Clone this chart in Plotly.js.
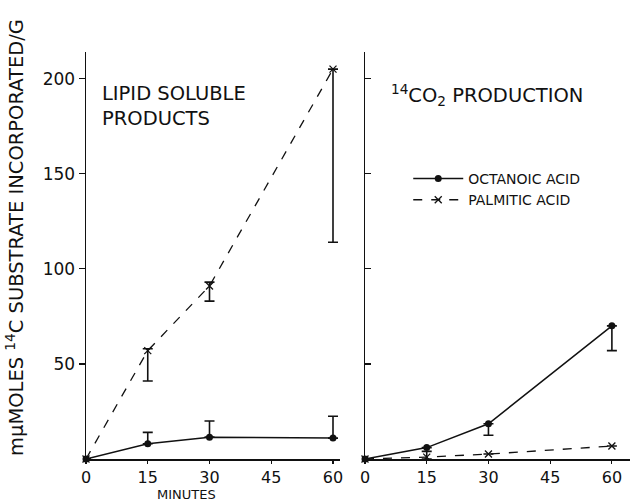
<!DOCTYPE html>
<html><head><meta charset="utf-8">
<script src="https://cdn.plot.ly/plotly-3.0.1.min.js"></script>
<style>body{margin:0;background:#fff}#c{width:630px;height:503px}</style>
</head><body><div id="c"></div>
<script>
// Data
const minutes = [0, 15, 30, 60];
// Lipid soluble products
const lipidPalmitic = [0, 57, 91, 205];
const lipidPalmiticErrPlus = [0, 1, 2, 0];
const lipidPalmiticErrMinus = [0, 16, 8, 91];
const lipidOctanoic = [0, 8, 11.5, 11];
const lipidOctanoicErrPlus = [0, 6, 8.5, 11.5];
const lipidOctanoicErrMinus = [0, 0, 0, 0];
// 14CO2 production
const co2Octanoic = [0, 6, 18.5, 70];
const co2OctanoicErrPlus = [0, 0, 0, 0];
const co2OctanoicErrMinus = [0, 0, 6, 13];
const co2Palmitic = [0, 1, 2.6, 6.8];
const co2PalmiticErrPlus = [0, 3, 0, 0];
const co2PalmiticErrMinus = [0, 1, 0, 0];
const xTicks = [0, 15, 30, 45, 60];
const yTicks = [50, 100, 150, 200];

const font = 'DejaVu Sans, Verdana, sans-serif';
const black = '#111';

function tr(x, y, ep, em, dash, sym, name, xa, ya, show) {
  return {
    x: x, y: y, xaxis: xa, yaxis: ya, name: name, showlegend: show,
    mode: 'lines+markers', type: 'scatter', cliponaxis: false,
    line: {color: black, width: dash === 'solid' ? 1.5 : 1.3, dash: dash},
    marker: {symbol: sym, size: 7, color: black,
             line: {color: black, width: sym === 'circle' ? 0 : 1.3}},
    error_y: {type: 'data', symmetric: false, array: ep, arrayminus: em,
              color: black, thickness: 1.6, width: 5}
  };
}

const data = [
  tr(minutes, lipidOctanoic, lipidOctanoicErrPlus, lipidOctanoicErrMinus, 'solid', 'circle', 'OCTANOIC ACID', 'x', 'y', true),
  tr(minutes, lipidPalmitic, lipidPalmiticErrPlus, lipidPalmiticErrMinus, 'dash', 'x-thin', 'PALMITIC ACID', 'x', 'y', true),
  tr(minutes, co2Octanoic, co2OctanoicErrPlus, co2OctanoicErrMinus, 'solid', 'circle', 'OCTANOIC ACID', 'x2', 'y2', false),
  tr(minutes, co2Palmitic, co2PalmiticErrPlus, co2PalmiticErrMinus, 'dash', 'x-thin', 'PALMITIC ACID', 'x2', 'y2', false)
];

const xBase = {
  range: [0, 61.7], showgrid: false, zeroline: false, showline: true,
  linecolor: black, linewidth: 1.5, ticks: 'outside', ticklen: 3, tickwidth: 1.2,
  tickcolor: black, tickvals: xTicks, ticktext: xTicks.map(String),
  tickfont: {family: font, size: 16, color: black}
};
const yBase = {
  range: [0, 214], showgrid: false, zeroline: false, showline: true,
  linecolor: black, linewidth: 1.5, tickvals: yTicks, tickwidth: 1.2, tickcolor: black,
  tickfont: {family: font, size: 17, color: black}
};

const layout = {
  width: 630, height: 503,
  margin: {l: 0, r: 0, t: 0, b: 0},
  paper_bgcolor: '#fff', plot_bgcolor: 'rgba(0,0,0,0)',
  showlegend: true,
  legend: {x: 0.648, y: 0.676, xanchor: 'left', yanchor: 'top',
           font: {family: font, size: 14, color: black}, bgcolor: 'rgba(0,0,0,0)',
           tracegroupgap: 2, itemwidth: 50},
  xaxis: Object.assign({}, xBase, {domain: [86/630, 340/630], anchor: 'y'}),
  yaxis: Object.assign({}, yBase, {domain: [44/503, 451/503], anchor: 'x',
          ticks: 'outside', ticklen: 6, showticklabels: true}),
  xaxis2: Object.assign({}, xBase, {domain: [365/630, 1], anchor: 'y2', range: [0, 64.4]}),
  yaxis2: Object.assign({}, yBase, {domain: [44/503, 451/503], anchor: 'x2',
          ticks: 'inside', ticklen: 6, showticklabels: false}),
  annotations: [
    {text: 'LIPID SOLUBLE<br>PRODUCTS', xref: 'paper', yref: 'paper',
     x: 100/630, y: 1 - 80/503, xanchor: 'left', yanchor: 'top', align: 'left',
     showarrow: false, font: {family: font, size: 19.5, color: black}},
    {text: '<sup>14</sup>CO<sub>2</sub> PRODUCTION', xref: 'paper', yref: 'paper',
     x: 389/630, y: 1 - 95/503, xanchor: 'left', yanchor: 'middle',
     showarrow: false, font: {family: font, size: 19.5, color: black}},
    {text: 'mμMOLES <sup>14</sup>C SUBSTRATE INCORPORATED/G', xref: 'paper', yref: 'paper',
     x: 15/630, y: 1 - 238/503, xanchor: 'center', yanchor: 'middle', textangle: -90,
     showarrow: false, font: {family: font, size: 19.5, color: black}},
    {text: 'MINUTES', xref: 'paper', yref: 'paper',
     x: 186/630, y: 0, xanchor: 'center', yanchor: 'bottom', borderpad: 0,
     showarrow: false, font: {family: font, size: 13, color: black}}
  ]
};

Plotly.newPlot('c', data, layout, {staticPlot: true, displayModeBar: false});
</script></body></html>
